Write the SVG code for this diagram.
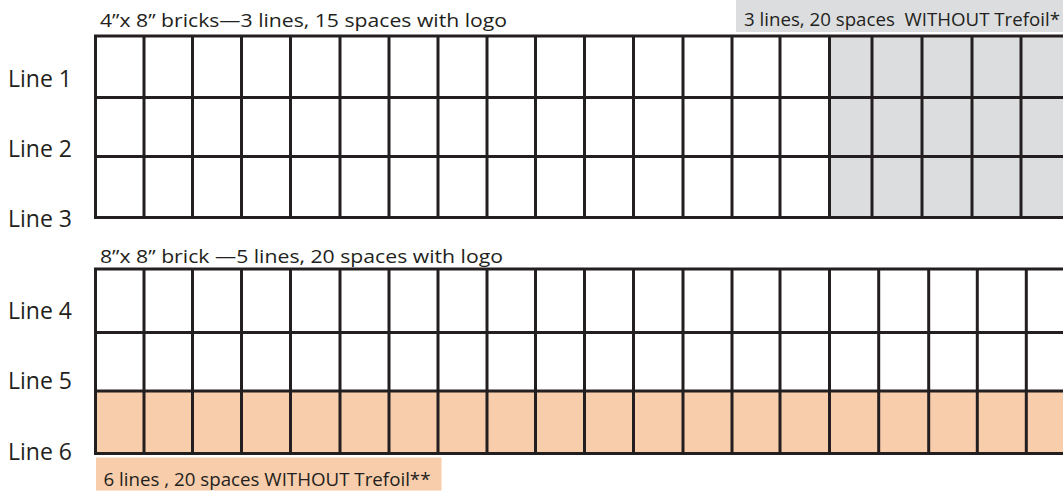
<svg xmlns="http://www.w3.org/2000/svg" width="1063" height="491" viewBox="0 0 1063 491">
<style>
.grid{fill:none;stroke:#231f20;stroke-width:3}
.t{font-family:"Open Sans","Liberation Sans",sans-serif;fill:#231f20;white-space:pre}
.lbl{font-size:18.5px}
.ln{font-size:23px}
</style>
<rect width="1063" height="491" fill="#ffffff"/>
<g id="top-label">
<text class="t lbl" x="100" y="27" textLength="407" lengthAdjust="spacingAndGlyphs">4”x 8” bricks—3 lines, 15 spaces with logo</text>
</g>
<g id="gray-label">
<rect x="736" y="0" width="327" height="32" fill="#dcdddf"/>
<text class="t lbl" x="744" y="26" textLength="316" lengthAdjust="spacingAndGlyphs" xml:space="preserve">3 lines, 20 spaces  WITHOUT Trefoil*</text>
</g>
<g id="top-grid">
<rect x="829.5" y="36" width="234" height="181.5" fill="#dcdddf"/>
<path class="grid" d="M94 36H1063M94 97.5H1063M94 156.5H1063M94 217.5H1063
M95.5 34.5V219M144 34.5V219M192.5 34.5V219M241.5 34.5V219M290.5 34.5V219M340 34.5V219M389 34.5V219M438 34.5V219M487 34.5V219M535.5 34.5V219M584.5 34.5V219M633.5 34.5V219M683 34.5V219M732 34.5V219M780 34.5V219M829.5 34.5V219M872 34.5V219M922 34.5V219M972 34.5V219M1021 34.5V219"/>
</g>
<g id="bottom-label">
<text class="t lbl" x="100" y="262.5" textLength="403" lengthAdjust="spacingAndGlyphs">8”x 8” brick —5 lines, 20 spaces with logo</text>
</g>
<g id="bottom-grid">
<rect x="95.5" y="391" width="968" height="62.5" fill="#f8cdac"/>
<path class="grid" d="M94 269H1063M94 332.5H1063M94 391H1063M94 453.5H1063
M95.5 267.5V455M144 267.5V455M192.5 267.5V455M241.5 267.5V455M290.5 267.5V455M340 267.5V455M389 267.5V455M438 267.5V455M487 267.5V455M535.5 267.5V455M584.5 267.5V455M633.5 267.5V455M683 267.5V455M732 267.5V455M780 267.5V455M829.5 267.5V455M878.7 267.5V455M928.7 267.5V455M977.3 267.5V455M1026.3 267.5V455"/>
</g>
<g id="peach-label">
<rect x="96" y="457.5" width="345.5" height="33" fill="#f8cdac"/>
<text class="t lbl" x="103.5" y="485.5" textLength="327" lengthAdjust="spacingAndGlyphs">6 lines , 20 spaces WITHOUT Trefoil**</text>
</g>
<g id="line-labels">
<text class="t ln" x="8" y="87">Line 1</text>
<text class="t ln" x="8" y="157">Line 2</text>
<text class="t ln" x="8" y="227">Line 3</text>
<text class="t ln" x="8" y="319">Line 4</text>
<text class="t ln" x="8" y="389">Line 5</text>
<text class="t ln" x="8" y="460">Line 6</text>
</g>
</svg>
